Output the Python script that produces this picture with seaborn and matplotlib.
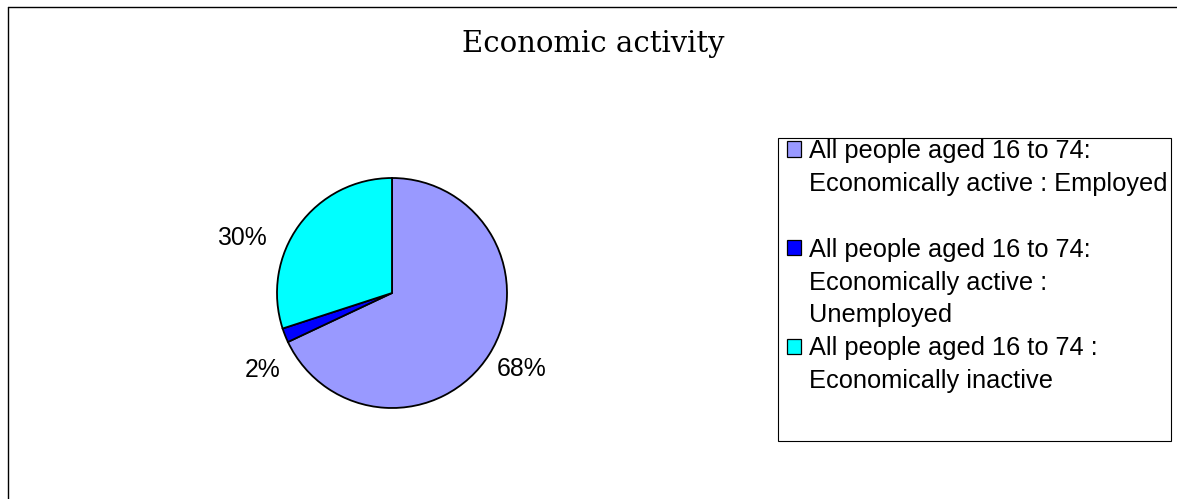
import numpy as np
import matplotlib
matplotlib.use("Agg")
import matplotlib.pyplot as plt
from matplotlib.patches import Patch, Rectangle
from matplotlib.lines import Line2D
import seaborn as sns

# Economic activity of all people aged 16 to 74 (percent)
categories = [
    "All people aged 16 to 74:\nEconomically active : Employed",
    "All people aged 16 to 74:\nEconomically active :\nUnemployed",
    "All people aged 16 to 74 :\nEconomically inactive",
]
shares = [68, 2, 30]
colors = ["#9999FF", "#0000FF", "#00FFFF"]
title = "Economic activity"

sns.set_style("white")
plt.rcParams["font.family"] = ["Liberation Sans", "DejaVu Sans"]
plt.rcParams["text.color"] = "black"

W, H = 1177, 499
fig = plt.figure(figsize=(W / 100, H / 100), dpi=100)
fig.patch.set_facecolor("white")

# chart-area border (left and top edges visible)
fig.add_artist(Line2D([8 / W, 8 / W], [0, 1 - 7 / H], color="black", lw=1.0,
                      transform=fig.transFigure))
fig.add_artist(Line2D([8 / W, 1], [1 - 7 / H, 1 - 7 / H], color="black", lw=1.0,
                      transform=fig.transFigure))

fig.text(593 / W, 1 - 44 / H, title, ha="center", va="center",
         fontsize=21, family="DejaVu Serif", color="black")

# pie
cx, cy, r = 392, 293, 115
ax = fig.add_axes([(cx - r) / W, (H - cy - r) / H, 2 * r / W, 2 * r / H])
palette = sns.color_palette(colors)
wedges, _, autotexts = ax.pie(
    shares, colors=palette, startangle=90, counterclock=False,
    autopct=lambda p: f"{p:.0f}%", pctdistance=1.3,
    wedgeprops=dict(edgecolor="black", linewidth=1.3),
    textprops=dict(fontsize=17.8, color="black"),
)
ax.set_xlim(-1, 1)
ax.set_ylim(-1, 1)
ax.set_aspect("equal")
ax.axis("off")

# label placement: angle shift (deg) from the wedge middle and radial distance
label_shift = [2.0, 9.0, 16.0]
label_dist = [1.31, 1.31, 1.39]
for w, t, sh, d in zip(wedges, autotexts, label_shift, label_dist):
    mid = np.deg2rad((w.theta1 + w.theta2) / 2 + sh)
    t.set_position((d * np.cos(mid), d * np.sin(mid)))
    t.set_ha("center")
    t.set_va("center")

# legend: one row per text line, swatch on the first line of each entry
handles, labels = [], []
for k, (cat, col) in enumerate(zip(categories, colors)):
    lines = cat.split("\n")
    for i, ln in enumerate(lines):
        if i == 0:
            handles.append(Patch(facecolor=col, edgecolor="black", linewidth=0.9))
        else:
            handles.append(Patch(facecolor="none", edgecolor="none"))
        labels.append(ln)
    if k == 0:
        handles.append(Patch(facecolor="none", edgecolor="none"))
        labels.append("")

fig.add_artist(Rectangle((778 / W, 1 - 441 / H), (1171 - 778) / W, (441 - 138) / H,
                         transform=fig.transFigure, facecolor="none",
                         edgecolor="black", lw=0.8))
fig.legend(handles, labels, loc="upper left",
           bbox_to_anchor=(787 / W, 1 - 139 / H),
           frameon=False, borderpad=0, borderaxespad=0,
           fontsize=18.3, labelcolor="black",
           handlelength=0.56, handleheight=0.56,
           handletextpad=0.3, labelspacing=0.35)

fig.savefig("out.png", dpi=100, facecolor="white")
